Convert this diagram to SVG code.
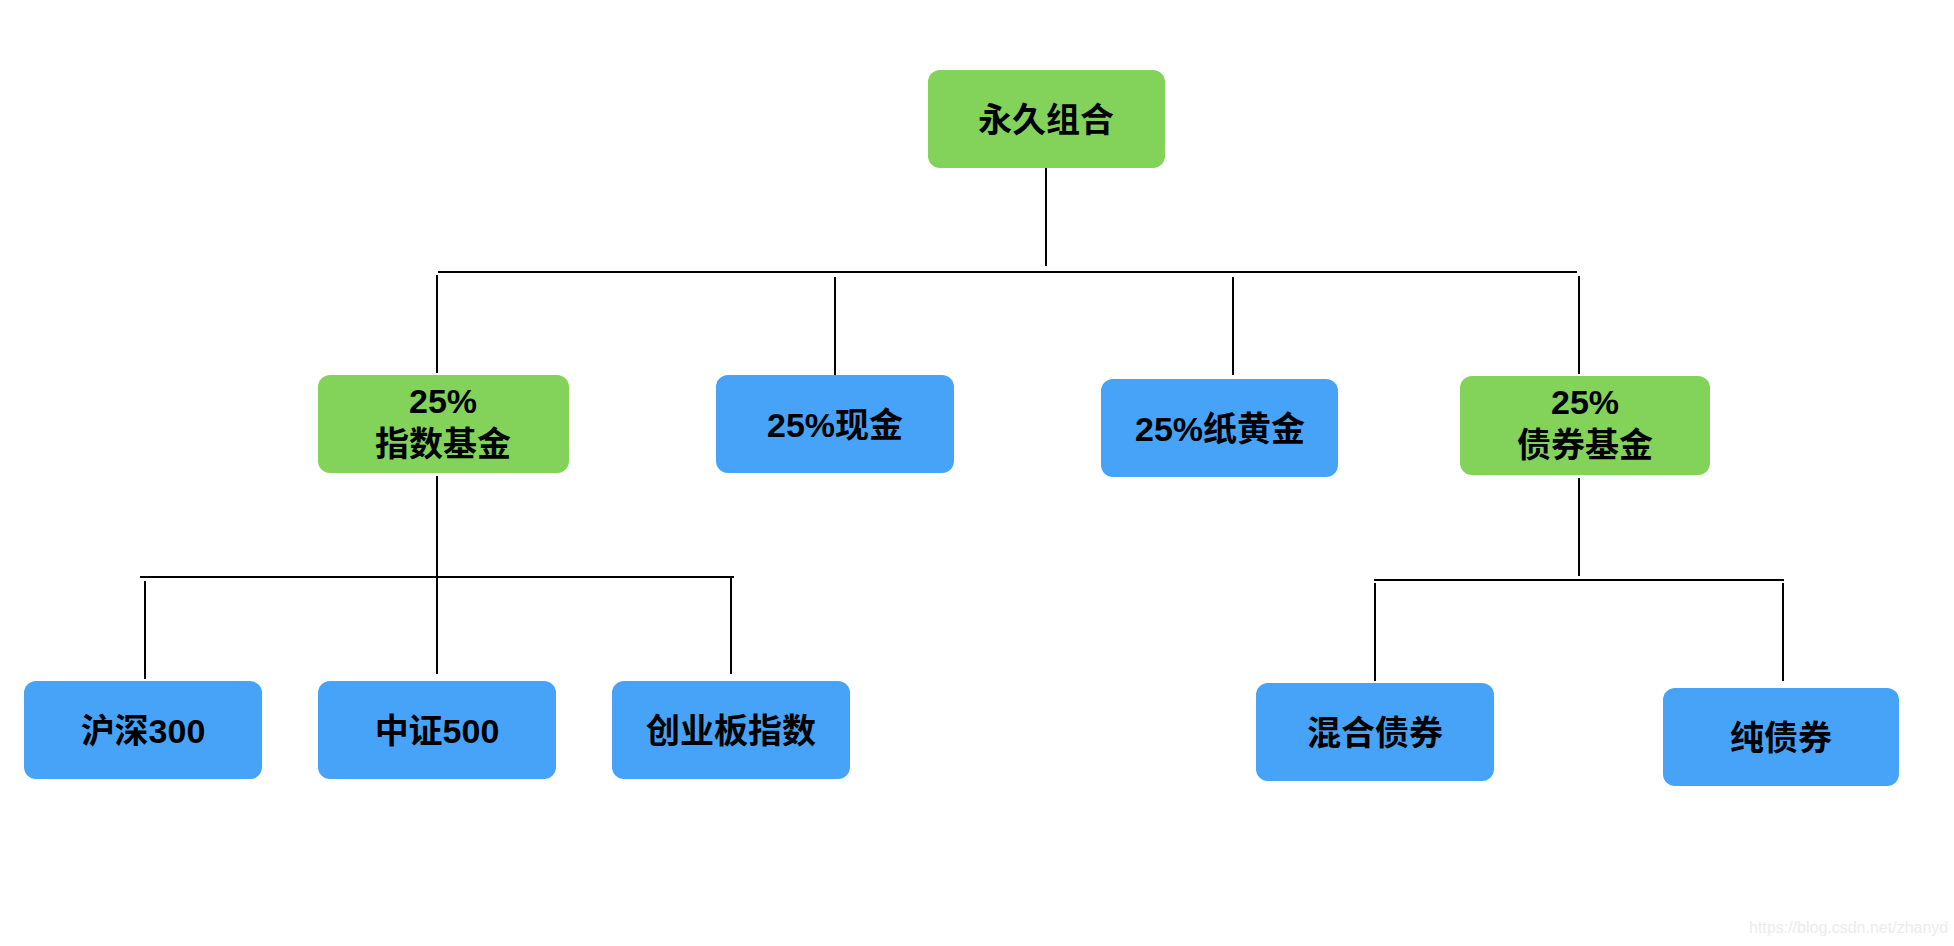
<svg xmlns="http://www.w3.org/2000/svg" width="1954" height="946" viewBox="0 0 1954 946">
<style>
.g{fill:#83D35A}
.b{fill:#46A3F7}
.t{font-family:"Liberation Sans","Noto Sans CJK SC",sans-serif;font-weight:bold;font-size:34px;fill:#000;text-anchor:middle;dominant-baseline:central}
.c line{stroke:#000;stroke-width:2}
.wm{font-family:"Liberation Sans",sans-serif;font-size:16px;fill:#ececec}
</style>
<rect width="1954" height="946" fill="#fff"/>
<g class="c" id="connectors">
<line x1="1046" y1="168" x2="1046" y2="266"/>
<line x1="438" y1="272" x2="1577" y2="272"/>
<line x1="437" y1="275" x2="437" y2="373"/>
<line x1="835" y1="277" x2="835" y2="375"/>
<line x1="1233" y1="277" x2="1233" y2="375"/>
<line x1="1579" y1="276" x2="1579" y2="374"/>
<line x1="437" y1="476" x2="437" y2="577"/>
<line x1="140" y1="577" x2="734" y2="577"/>
<line x1="145" y1="581" x2="145" y2="679"/>
<line x1="437" y1="577" x2="437" y2="674"/>
<line x1="731" y1="577" x2="731" y2="674"/>
<line x1="1579" y1="478" x2="1579" y2="576"/>
<line x1="1374" y1="580" x2="1784" y2="580"/>
<line x1="1375" y1="583" x2="1375" y2="681"/>
<line x1="1783" y1="583" x2="1783" y2="681"/>
</g>
<g id="root"><rect class="g" x="928" y="70" width="237" height="98" rx="12"/><text class="t" x="1046" y="120">永久组合</text></g>
<g id="index"><rect class="g" x="318" y="375" width="251" height="98" rx="12"/><text class="t" x="443" y="401">25%</text><text class="t" x="443" y="444">指数基金</text></g>
<g id="cash"><rect class="b" x="716" y="375" width="238" height="98" rx="12"/><text class="t" x="835" y="425">25%现金</text></g>
<g id="gold"><rect class="b" x="1101" y="379" width="237" height="98" rx="12"/><text class="t" x="1220" y="429">25%纸黄金</text></g>
<g id="bond"><rect class="g" x="1460" y="376" width="250" height="99" rx="12"/><text class="t" x="1585" y="402">25%</text><text class="t" x="1585" y="445">债券基金</text></g>
<g id="hs300"><rect class="b" x="24" y="681" width="238" height="98" rx="12"/><text class="t" x="143" y="731">沪深300</text></g>
<g id="zz500"><rect class="b" x="318" y="681" width="238" height="98" rx="12"/><text class="t" x="437" y="731">中证500</text></g>
<g id="cyb"><rect class="b" x="612" y="681" width="238" height="98" rx="12"/><text class="t" x="731" y="731">创业板指数</text></g>
<g id="mixed"><rect class="b" x="1256" y="683" width="238" height="98" rx="12"/><text class="t" x="1375" y="733">混合债券</text></g>
<g id="pure"><rect class="b" x="1663" y="688" width="236" height="98" rx="12"/><text class="t" x="1781" y="738">纯债券</text></g>
<text class="wm" x="1749" y="933">https://blog.csdn.net/zhanyd</text>
</svg>
